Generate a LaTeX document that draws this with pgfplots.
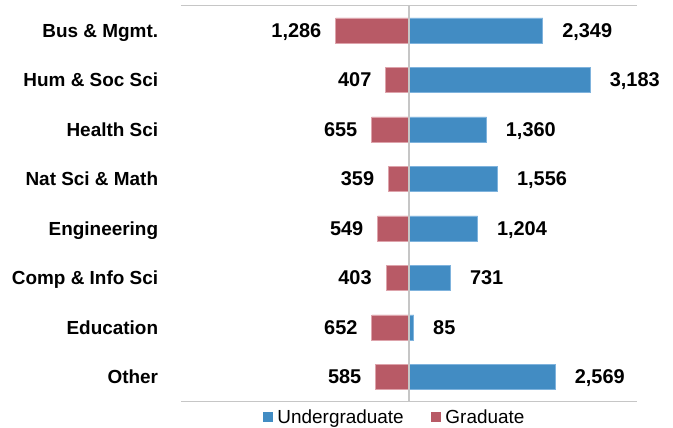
\documentclass[border=0pt]{standalone}
\usepackage{pgfplots}
\pgfplotsset{compat=1.18}
\usepackage{pgfplotstable}
\usepackage{fontspec}
\setmainfont{Liberation Sans}
\definecolor{ugblue}{HTML}{428CC3}
\definecolor{ugedge}{HTML}{7FB3DD}
\definecolor{grred}{HTML}{B85A66}
\definecolor{gredge}{HTML}{DDA3AB}
\definecolor{axgrey}{HTML}{C6C6C6}

\pgfplotstableread{
pos ug grad
7 2349 1286
6 3183 407
5 1360 655
4 1556 359
3 1204 549
2 731 403
1 85 652
0 2569 585
}\datatable

\begin{document}
\begin{tikzpicture}
\useasboundingbox (-181bp,-26.3bp) rectangle (492bp,401.7bp);
\begin{axis}[
  at={(0,0)}, anchor=south west,
  width=456bp, height=396bp, scale only axis,
  xmin=-4000, xmax=4000,
  ymin=-0.5, ymax=7.5,
  axis line style={draw=none},
  xtick=\empty,
  ytick={0,1,2,3,4,5,6,7},
  yticklabels={Other,Education,Comp \& Info Sci,Engineering,Nat Sci \& Math,Health Sci,Hum \& Soc Sci,Bus \& Mgmt.},
  major tick length=0pt,
  yticklabel style={font=\fontsize{19}{22}\selectfont\bfseries, anchor=base east, inner sep=0pt, xshift=-22.7bp, yshift=-6.8bp},
  clip=false,
  /pgf/number format/assume math mode=true,
  xbar, bar width=25bp, bar shift=0pt,
  legend columns=2,
  legend style={draw=none, at={(0.467,-0.0386)}, anchor=center,
    font=\fontsize{19}{22}\selectfont, inner sep=0pt, outer sep=0pt,
    nodes={inner sep=0pt},
    /tikz/every odd column/.append style={column sep=4bp},
    /tikz/every even column/.append style={column sep=27.7bp}},
  legend image code/.code={\fill[#1, draw=none] (0bp,-5bp) rectangle (10bp,5bp);},
  nodes near coords={\pgfmathprintnumber[1000 sep={,}]{\pgfplotspointmeta}},
]
\addplot[fill=ugblue, draw=ugedge, line width=0.8bp, point meta=explicit,
  nodes near coords style={font=\fontsize{20}{24}\selectfont\bfseries, anchor=base west, inner sep=0pt, xshift=19bp, yshift=-7bp, text=black}]
  table[x=ug, y=pos, meta=ug] {\datatable};
\addlegendentry{Undergraduate}
\addplot[fill=grred, draw=gredge, line width=0.8bp, point meta=explicit,
  nodes near coords style={font=\fontsize{20}{24}\selectfont\bfseries, anchor=base east, inner sep=0pt, xshift=-14bp, yshift=-7bp, text=black}]
  table[x expr=-\thisrow{grad}, y=pos, meta=grad] {\datatable};
\addlegendentry{Graduate}
\draw[axgrey, line width=1.5bp] (rel axis cs:0,1) -- (rel axis cs:1,1);
\draw[axgrey, line width=1.5bp] (rel axis cs:0,0) -- (rel axis cs:1,0);
\draw[axgrey, line width=2bp] (axis cs:0,-0.5) -- (axis cs:0,7.5);
\end{axis}
\end{tikzpicture}
\end{document}
